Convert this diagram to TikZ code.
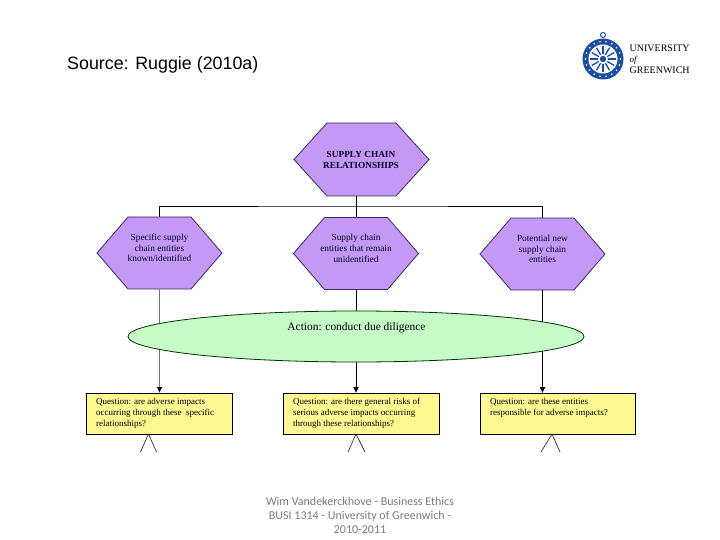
\documentclass[tikz,border=0pt]{standalone}
\usepackage{fontspec}
\setmainfont{Liberation Serif}
\setsansfont{Liberation Sans}
\newfontfamily\footfont{Carlito}
\usepackage{tikz}
\usetikzlibrary{positioning}
\usetikzlibrary{shapes}
\usetikzlibrary{arrows.meta}
\definecolor{hexColor}{HTML}{C499F5}
\definecolor{hexEdge}{HTML}{3D2A5C}
\definecolor{ovalColor}{HTML}{C4FBC6}
\definecolor{boxColor}{HTML}{FFF994}
\definecolor{sealColor}{HTML}{1B4F9E}
\definecolor{footColor}{HTML}{7A7A7A}
\begin{document}
\begin{tikzpicture}[
		x=1pt, y=-1pt,
		hexbox/.style={minimum width=125pt, minimum height=72pt, inner sep=0pt, outer sep=0pt},
		hexline/.style={draw=hexEdge, fill=hexColor, line width=0.8pt},
		hexlbl/.style={font=\fontsize{9.3}{10.7}\selectfont, align=center, text=black!85!blue},
		qbox/.style={draw=black, fill=boxColor, line width=0.8pt, minimum height=41pt, inner sep=0pt, outer sep=0pt},
		qlbl/.style={font=\fontsize{9}{11}\selectfont, align=left, anchor=north west, inner sep=0pt},
		link/.style={draw=black, line width=0.8pt},
		arrowlink/.style={link, -{Latex[length=6pt, width=6pt, black]}},
		branch/.style={draw=black!80, line width=0.7pt}
		]
		\useasboundingbox (0,0) rectangle (720,540);

		% Title
		\node[font=\sffamily\fontsize{17.85}{20}\selectfont, anchor=west, inner sep=0pt] (title) at (67,65) {Source: Ruggie (2010a)};

		% Seal
		\draw[sealColor, line width=1pt] (603,35) circle (2.5);
		\fill[sealColor] (603,59) circle (20.5);
		\fill[white] (603,59) circle (14.5);
		\foreach \a in {0,30,...,330} {
			\draw[sealColor, line width=1.3pt] (603,59) -- ++(\a:13);
		}
		\fill[white] (603,59) circle (5);
		\fill[sealColor] (603,59) circle (3.2);
		\foreach \a in {0,20,...,340} {
			\fill[white] (603,59) ++(\a:17.5) circle (0.9);
		}
		\node[font=\fontsize{10}{11}\selectfont, anchor=west, inner sep=0pt] (uni) at (629.5,48) {UNIVERSITY};
		\node[font=\itshape\fontsize{9}{11}\selectfont, anchor=west, inner sep=0pt] (of) at (629.5,60) {of};
		\node[font=\fontsize{10}{11}\selectfont, anchor=west, inner sep=0pt] (green) at (629.5,70.5) {GREENWICH};

		% Hexagons
		\node[hexbox, minimum width=135pt, minimum height=73pt] (tophex) at (361.5,159.5) {};
		\node[hexbox] (lefthex) at (159.5,253) {};
		\node[hexbox] (midhex) at (356,253.5) {};
		\node[hexbox] (righthex) at (542.5,254) {};
		\foreach \hx/\cut in {tophex/33, lefthex/31, midhex/31, righthex/31} {
			\draw[hexline] (\hx.west) -- ([xshift=\cut]\hx.north west) -- ([xshift=-\cut]\hx.north east) -- (\hx.east) -- ([xshift=-\cut]\hx.south east) -- ([xshift=\cut]\hx.south west) -- cycle;
		}
		\node[hexlbl, font=\bfseries\fontsize{9.3}{11}\selectfont] (toplbl) at (361,160) {SUPPLY CHAIN\\RELATIONSHIPS};
		\node[hexlbl] (leftlbl) at (159.5,248) {Specific supply\\chain entities\\known/identified};
		\node[hexlbl] (midlbl) at (356,248.5) {Supply chain\\entities that remain\\unidentified};
		\node[hexlbl] (rightlbl) at (542.5,249) {Potential new\\supply chain\\entities};

		% Question boxes
		\node[qbox, minimum width=146pt] (leftq) at (159,413.5) {};
		\node[qlbl] (leftqlbl) at (96,398) {Question: are adverse impacts\\occurring through these\ \ specific\\relationships?};
		\node[qbox, minimum width=156pt] (midq) at (361,413.5) {};
		\node[qlbl] (midqlbl) at (293,398) {Question: are there general risks of\\serious adverse impacts occurring\\through these relationships?};
		\node[qbox, minimum width=155pt] (rightq) at (557.5,413.5) {};
		\node[qlbl] (rightqlbl) at (490,398) {Question: are these entities\\responsible for adverse impacts?};

		% Links
		\coordinate (bus) at (355.5,206);
		\draw[link] (tophex.south -| midhex.north) -- (midhex.north);
		\draw[link] (lefthex.north) |- (bus) -| (righthex.north);
		\draw[arrowlink, draw=black!55, line width=1.6pt] (lefthex.south) -- (lefthex.south |- leftq.north);
		\draw[arrowlink] (midhex.south) -- (midhex.south |- midq.north);
		\draw[arrowlink] (righthex.south) -- (righthex.south |- rightq.north);

		% Oval goes over the links
		\node[ellipse, draw=black!80!green, fill=ovalColor, line width=0.8pt, minimum width=456pt, minimum height=51pt, inner sep=0pt] (oval) at (356,336.5) {};
		\node[font=\fontsize{11.4}{13}\selectfont, inner sep=0pt] (ovallbl) at (356.5,328) {Action: conduct due diligence};

		% Branches under the boxes
		\coordinate (leftfoot) at (148.5,434);
		\coordinate (midfoot) at (356,434);
		\coordinate (rightfoot) at (552,434);
		\draw[branch] (leftfoot) -- ++(-8,18) (leftfoot) -- ++(8,18);
		\draw[branch] (midfoot) -- ++(-8,18) (midfoot) -- ++(9,18);
		\draw[branch] (rightfoot) -- ++(-11,18) (rightfoot) -- ++(8,18);

		% Footer
		\node[font=\footfont\fontsize{12}{14}\selectfont, text=footColor, align=center, inner sep=0pt] (foot) at (360,515) {Wim Vandekerckhove - Business Ethics\\BUSI 1314 - University of Greenwich -\\2010-2011};
	\end{tikzpicture}
\end{document}
